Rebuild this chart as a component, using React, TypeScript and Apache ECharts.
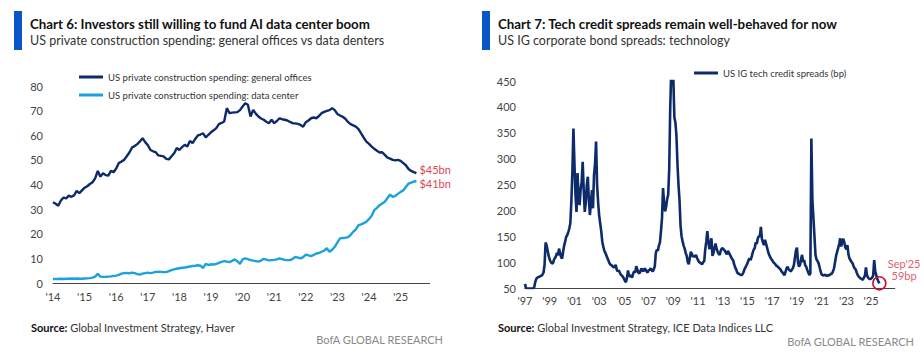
import React, { useEffect, useRef } from "react";
import * as echarts from "echarts";

const FONT = "Lato, 'Liberation Sans Narrow', 'DejaVu Sans Condensed', sans-serif";

// ---------- Chart 6 data (monthly, Jan 2014 - Jul 2025), $bn ----------
const officeSeriesName = "US private construction spending: general offices";
const dataCenterSeriesName = "US private construction spending: data center";

const officesSpending = [
  32.8, 32.2, 31.4, 33.5, 34.7, 34.4, 35.5, 35.0, 35.6, 37.4, 36.5, 37.6,
  38.7, 39.3, 40.2, 40.9, 42.5, 45.5, 43.2, 44.6, 43.8, 43.6, 45.5, 45.0,
  46.5, 48.7, 49.3, 50.0, 51.5, 53.0, 55.0, 55.6, 56.4, 57.5, 58.8, 57.2,
  56.0, 54.0, 53.5, 53.1, 51.8, 51.6, 51.4, 50.4, 50.2, 51.5, 52.7, 54.8,
  54.0, 55.2, 56.1, 55.4, 57.7, 56.8, 58.5, 59.9, 60.3, 60.8, 59.1, 60.2,
  61.2, 62.0, 62.9, 64.5, 65.0, 65.6, 71.0, 69.0, 69.2, 69.3, 69.4, 70.2,
  71.7, 73.0, 72.4, 67.6, 70.3, 68.8, 67.6, 66.8, 66.3, 65.5, 64.9, 66.3,
  64.9, 65.8, 66.9, 66.5, 66.3, 66.0, 65.4, 64.9, 64.8, 64.6, 64.2, 63.5,
  65.3, 66.0, 66.9, 67.2, 66.9, 67.8, 69.0, 69.5, 69.9, 70.2, 71.0, 70.2,
  68.6, 68.0, 67.5, 66.7, 65.4, 64.5, 64.0, 63.5, 62.5, 60.8, 59.0, 57.4,
  56.5, 55.4, 54.5, 53.7, 53.0, 53.1, 52.0, 50.9, 50.5, 50.0, 49.8, 50.0,
  49.6, 48.7, 47.8, 46.3, 45.5, 45.0, 44.6,
];

const dataCenterSpending = [
  1.6, 1.6, 1.6, 1.7, 1.6, 1.7, 1.7, 1.8, 1.7, 1.8, 1.7, 1.7,
  1.8, 1.9, 2.0, 2.2, 2.6, 3.7, 2.6, 2.5, 2.5, 2.6, 2.7, 2.9,
  3.0, 3.3, 3.8, 4.0, 4.1, 3.9, 4.2, 4.0, 3.6, 3.4, 3.8, 4.0,
  4.2, 4.0, 4.2, 4.5, 4.6, 4.5, 4.4, 4.4, 4.8, 5.2, 5.5, 5.8,
  6.0, 6.2, 6.3, 6.5, 6.7, 6.9, 7.0, 7.2, 7.0, 6.1, 7.8, 7.3,
  7.6, 7.5, 7.8, 8.2, 8.6, 8.9, 8.7, 8.5, 9.0, 9.6, 8.8, 7.8,
  9.6, 10.0, 9.7, 9.3, 9.1, 8.9, 8.7, 9.1, 9.8, 9.5, 9.2, 9.3,
  9.4, 9.6, 10.0, 9.7, 9.4, 9.3, 9.3, 9.8, 10.6, 10.3, 10.0, 10.5,
  11.5, 11.2, 10.9, 11.4, 12.0, 12.2, 12.7, 13.2, 14.1, 12.7, 13.5, 14.7,
  16.5, 18.1, 18.3, 18.4, 18.6, 19.5, 20.8, 21.8, 23.5, 23.8, 24.3, 24.9,
  26.0, 27.3, 29.6, 30.5, 31.6, 32.3, 33.0, 34.5, 35.9, 35.0, 35.4, 36.2,
  37.0, 37.6, 39.0, 40.4, 40.8, 41.2, 41.3,
];

const officeEndLabel = "$45bn";
const dataCenterEndLabel = "$41bn";

// ---------- Chart 7 data (monthly, Jan 1997 - Sep 2025), bp ----------
const spreadSeriesName = "US IG tech credit spreads (bp)";

const spreadsLate1990s = [
  58, 49, 49, 49, 49, 49, 49, 49, 49, 52, 62, 68,
  70, 71, 72, 73, 74, 76, 80, 95, 138, 132, 122, 112,
  105, 100, 98, 97, 104, 108, 111, 118, 113, 126, 118, 110,
];
const spreads2000s = [
  107, 120, 132, 140, 149, 152, 158, 165, 175, 217, 275, 358,
  290, 230, 197, 272, 225, 210, 240, 255, 294, 240, 197, 215,
  249, 265, 220, 191, 215, 239, 204, 268, 290, 333, 249, 215,
  190, 175, 160, 140, 130, 122, 118, 113, 108, 103, 98, 95,
  94, 92, 90, 91, 95, 86, 82, 84, 80, 76, 74, 72,
  68, 64, 61, 70, 84, 74, 72, 75, 70, 78, 82, 80,
  92, 86, 80, 78, 82, 88, 84, 82, 88, 86, 82, 80,
  84, 85, 88, 84, 82, 86, 92, 118, 124, 122, 132, 138,
  160, 185, 243, 215, 198, 207, 222, 230, 280, 400, 470, 470,
  455, 380, 370, 345, 290, 250, 220, 170, 150, 140, 132, 126,
];
const spreads2010s = [
  118, 112, 100, 96, 108, 120, 116, 110, 112, 110, 114, 108,
  104, 100, 99, 97, 96, 100, 102, 125, 140, 160, 140, 125,
  135, 146, 112, 118, 128, 136, 126, 120, 116, 114, 122, 126,
  127, 124, 122, 118, 115, 122, 118, 114, 110, 106, 104, 96,
  90, 86, 80, 78, 77, 76, 75, 76, 80, 86, 90, 94,
  98, 104, 107, 104, 110, 118, 124, 127, 138, 135, 146, 150,
  150, 168, 145, 138, 133, 143, 136, 128, 120, 114, 110, 106,
  104, 100, 98, 96, 93, 92, 90, 88, 86, 82, 80, 77,
  75, 82, 88, 91, 86, 84, 82, 85, 88, 94, 108, 122,
  128, 100, 91, 95, 106, 114, 100, 104, 94, 91, 85, 80,
];
const spreads2020s = [
  75, 78, 339, 220, 185, 150, 114, 105, 102, 98, 90, 82,
  76, 75, 74, 76, 75, 73, 75, 74, 76, 77, 78, 82,
  88, 100, 112, 120, 127, 135, 146, 130, 140, 145, 138, 128,
  125, 133, 115, 107, 104, 100, 98, 92, 88, 86, 80, 75,
  72, 70, 68, 67, 66, 70, 74, 90, 75, 70, 68, 67,
  68, 70, 74, 104, 82, 75, 68, 63, 59,
];
const spreadValues = [...spreadsLate1990s, ...spreads2000s, ...spreads2010s, ...spreads2020s];
const spreadAnnotation = "Sep'25\n59bp";

function monthLabels(startYear: number, count: number): string[] {
  const out: string[] = [];
  for (let i = 0; i < count; i++) {
    const y = startYear + Math.floor(i / 12);
    const m = (i % 12) + 1;
    out.push(`${y}-${m < 10 ? "0" + m : m}`);
  }
  return out;
}

// axes run to the end of 2025 / 2026
const spendingMonths = monthLabels(2014, 144);
const spreadMonths = monthLabels(1997, 360);

const NAVY = "#0d2a6b";
const LIGHT = "#1ba1dc";
const RED = "#e0474c";

export default function App() {
  const ref = useRef<HTMLDivElement>(null);
  useEffect(() => {
    if (!ref.current) return;
    const chart = echarts.init(ref.current, undefined, { renderer: "svg" });
    const axisLabel = { color: "#444", fontSize: 11, fontFamily: FONT };
    const lastSpreadIdx = spreadValues.length - 1;
    const titleStyle = { fontSize: 13.3, fontWeight: "bold", color: "#111", fontFamily: FONT, lineHeight: 16 };
    const subStyle = { fontSize: 12.5, color: "#333", fontFamily: FONT, lineHeight: 15 };
    const legendText = { fontSize: 9.5, color: "#333", fontFamily: FONT, lineHeight: 12 };
    chart.setOption({
      animation: false,
      backgroundColor: "#ffffff",
      textStyle: { fontFamily: FONT },
      title: [
        {
          text: "Chart 6: Investors still willing to fund AI data center boom",
          subtext: "US private construction spending: general offices vs data denters",
          left: 30,
          top: 16,
          padding: 0,
          itemGap: 1,
          textStyle: titleStyle,
          subtextStyle: subStyle,
        },
        {
          text: "Chart 7: Tech credit spreads remain well-behaved for now",
          subtext: "US IG corporate bond spreads: technology",
          left: 498,
          top: 16,
          padding: 0,
          itemGap: 1,
          textStyle: titleStyle,
          subtextStyle: subStyle,
        },
      ],
      legend: [
        {
          data: [officeSeriesName, dataCenterSeriesName],
          orient: "vertical",
          left: 79,
          top: 71,
          padding: 0,
          itemWidth: 24,
          itemHeight: 3,
          itemGap: 6,
          icon: "rect",
          textStyle: legendText,
        },
        {
          data: [spreadSeriesName],
          orient: "vertical",
          left: 694,
          top: 67,
          padding: 0,
          itemWidth: 24,
          itemHeight: 3,
          icon: "rect",
          textStyle: legendText,
        },
      ],
      grid: [
        { left: 53, top: 86, width: 376.6, height: 197 },
        { left: 525, top: 81, width: 369.8, height: 207 },
      ],
      xAxis: [
        {
          type: "category",
          gridIndex: 0,
          data: spendingMonths,
          boundaryGap: false,
          axisLine: { lineStyle: { color: "#444", width: 1 } },
          axisTick: { show: false },
          axisLabel: {
            ...axisLabel,
            margin: 8,
            interval: (_i: number, v: string) => v.endsWith("-01"),
            formatter: (v: string) => "'" + v.slice(2, 4),
          },
          splitLine: { show: false },
        },
        {
          type: "category",
          gridIndex: 1,
          data: spreadMonths,
          boundaryGap: false,
          axisLine: { lineStyle: { color: "#444", width: 1 } },
          axisTick: { show: false },
          axisLabel: {
            ...axisLabel,
            margin: 7,
            interval: (_i: number, v: string) => v.endsWith("-01") && parseInt(v.slice(0, 4), 10) % 2 === 1,
            formatter: (v: string) => "'" + v.slice(2, 4),
          },
          splitLine: { show: false },
        },
      ],
      yAxis: [
        {
          type: "value",
          gridIndex: 0,
          min: 0,
          max: 80,
          interval: 10,
          axisLine: { show: false },
          axisTick: { show: false },
          splitLine: { show: false },
          axisLabel: { ...axisLabel, margin: 10 },
        },
        {
          type: "value",
          gridIndex: 1,
          min: 50,
          max: 450,
          interval: 50,
          axisLine: { show: false },
          axisTick: { show: false },
          splitLine: { show: false },
          axisLabel: { ...axisLabel, margin: 9 },
        },
      ],
      series: [
        {
          name: officeSeriesName,
          type: "line",
          xAxisIndex: 0,
          yAxisIndex: 0,
          data: officesSpending,
          showSymbol: false,
          color: NAVY,
          lineStyle: { color: NAVY, width: 2.4 },
          endLabel: {
            show: true,
            formatter: () => officeEndLabel,
            color: RED,
            fontSize: 11,
            fontFamily: FONT,
            distance: 3,
            offset: [0, -4],
          },
        },
        {
          name: dataCenterSeriesName,
          type: "line",
          xAxisIndex: 0,
          yAxisIndex: 0,
          data: dataCenterSpending,
          showSymbol: false,
          color: LIGHT,
          lineStyle: { color: LIGHT, width: 2.4 },
          endLabel: {
            show: true,
            formatter: () => dataCenterEndLabel,
            color: RED,
            fontSize: 11,
            fontFamily: FONT,
            distance: 3,
            offset: [0, 2],
          },
        },
        {
          name: spreadSeriesName,
          type: "line",
          xAxisIndex: 1,
          yAxisIndex: 1,
          data: spreadValues,
          showSymbol: false,
          clip: true,
          color: NAVY,
          lineStyle: { color: NAVY, width: 2.6 },
          markPoint: {
            symbol: "circle",
            symbolSize: 13,
            itemStyle: { color: "rgba(0,0,0,0)", borderColor: "#c8102e", borderWidth: 1.5 },
            label: {
              show: true,
              formatter: () => spreadAnnotation,
              position: [32, -19],
              align: "center",
              verticalAlign: "top",
              color: "#e0606e",
              fontSize: 11,
              lineHeight: 12.5,
              fontFamily: FONT,
            },
            data: [{ coord: [spreadMonths[lastSpreadIdx], spreadValues[lastSpreadIdx]] }],
          },
        },
      ],
      graphic: [
        { type: "rect", shape: { x: 14, y: 11, width: 8, height: 39 }, style: { fill: "#0a55c8" } },
        { type: "rect", shape: { x: 482, y: 11, width: 8, height: 39 }, style: { fill: "#0a55c8" } },
        {
          type: "text",
          x: 31,
          y: 327,
          style: {
            text: "{b|Source:} Global Investment Strategy, Haver",
            fontSize: 11,
            fontFamily: FONT,
            fill: "#333",
            verticalAlign: "middle",
            rich: { b: { fontWeight: "bold", fontSize: 11, fontFamily: FONT, fill: "#111" } },
          },
        },
        {
          type: "text",
          x: 498,
          y: 327,
          style: {
            text: "{b|Source:} Global Investment Strategy, ICE Data Indices LLC",
            fontSize: 11,
            fontFamily: FONT,
            fill: "#333",
            verticalAlign: "middle",
            rich: { b: { fontWeight: "bold", fontSize: 11, fontFamily: FONT, fill: "#111" } },
          },
        },
        {
          type: "text",
          x: 443,
          y: 339.5,
          style: { text: "BofA GLOBAL RESEARCH", fontSize: 11, fontFamily: FONT, fill: "#8a8a8a", align: "right", verticalAlign: "middle" },
        },
        {
          type: "text",
          x: 914,
          y: 341.5,
          style: { text: "BofA GLOBAL RESEARCH", fontSize: 11, fontFamily: FONT, fill: "#8a8a8a", align: "right", verticalAlign: "middle" },
        },
      ],
    });
    return () => chart.dispose();
  }, []);
  return <div ref={ref} style={{ position: "absolute", left: 0, top: 0, width: 924, height: 357 }} />;
}
